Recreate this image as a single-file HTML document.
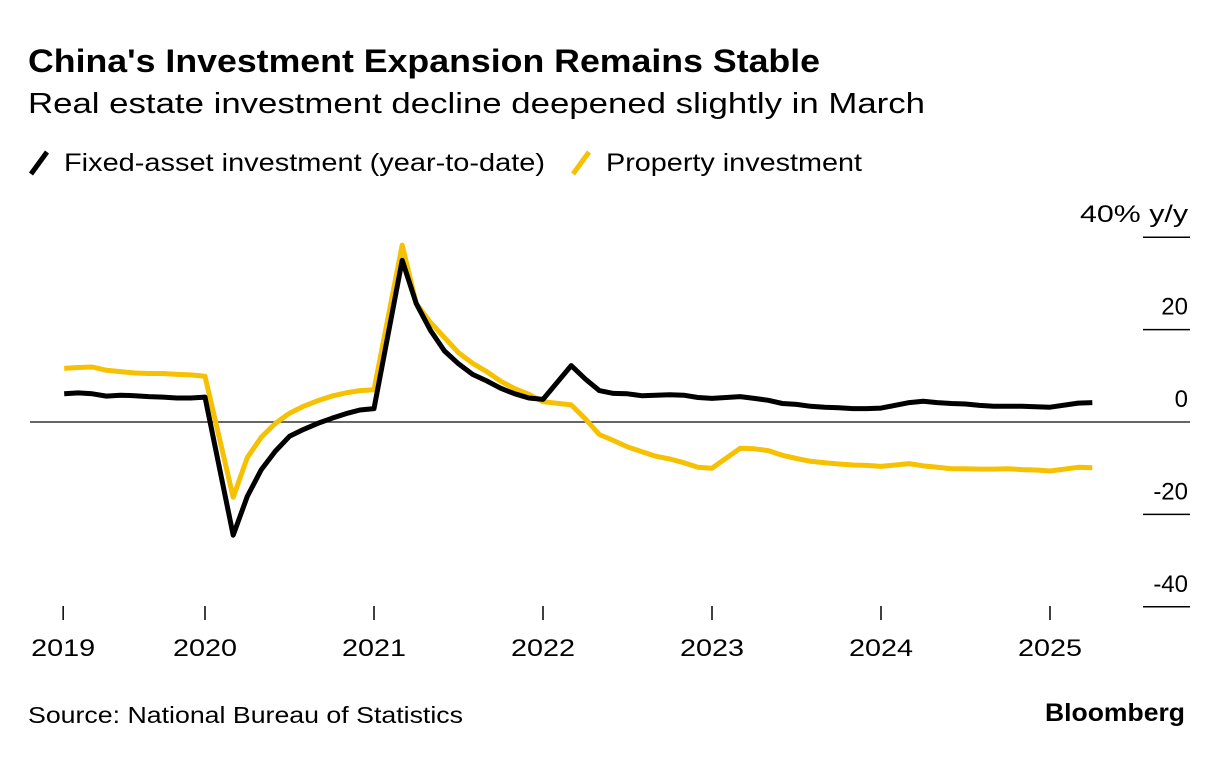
<!DOCTYPE html>
<html><head><meta charset="utf-8"><style>
body{margin:0;background:#fff;font-family:"Liberation Sans",sans-serif;}
svg text{font-family:"Liberation Sans",sans-serif;}
</style></head><body>
<svg width="1223" height="756">
<text x="28" y="72" font-size="32" font-weight="bold" fill="#000" textLength="792" lengthAdjust="spacingAndGlyphs">China's Investment Expansion Remains Stable</text>
<text x="28" y="113" font-size="29" fill="#000" textLength="897" lengthAdjust="spacingAndGlyphs">Real estate investment decline deepened slightly in March</text>
<g>
<line x1="31" y1="174" x2="47" y2="152" stroke="#000" stroke-width="5"/>
<text x="64" y="171" font-size="25" textLength="481" lengthAdjust="spacingAndGlyphs">Fixed-asset investment (year-to-date)</text>
<line x1="573" y1="174" x2="589" y2="152" stroke="#f6c100" stroke-width="5"/>
<text x="606" y="171" font-size="25" textLength="256" lengthAdjust="spacingAndGlyphs">Property investment</text>
</g>
<g id="axes"></g>
<g id="series"></g>
<text x="28" y="723" font-size="23" textLength="435" lengthAdjust="spacingAndGlyphs">Source: National Bureau of Statistics</text>
<text x="1185" y="721" font-size="25" font-weight="bold" text-anchor="end" textLength="140" lengthAdjust="spacingAndGlyphs">Bloomberg</text>
</svg>
<script>
const years=[2019,2020,2021,2022,2023,2024,2025];
const yTicks=[40,20,0,-20,-40];
const yTickLabels=["40% y/y","20","0","-20","-40"];
const months=[2,3,4,5,6,7,8,9,10,11,12];
const fai2019=[6.1,6.3,6.1,5.6,5.8,5.7,5.5,5.4,5.2,5.2,5.4];
const fai2020=[-24.5,-16.1,-10.3,-6.3,-3.1,-1.6,-0.3,0.8,1.8,2.6,2.9];
const fai2021=[35.0,25.6,19.9,15.4,12.6,10.3,8.9,7.3,6.1,5.2,4.9];
const fai2022=[12.2,9.3,6.8,6.2,6.1,5.7,5.8,5.9,5.8,5.3,5.1];
const fai2023=[5.5,5.1,4.7,4.0,3.8,3.4,3.2,3.1,2.9,2.9,3.0];
const fai2024=[4.2,4.5,4.2,4.0,3.9,3.6,3.4,3.4,3.4,3.3,3.2];
const fai2025=[4.1,4.2];
const prop2019=[11.6,11.8,11.9,11.2,10.9,10.6,10.5,10.5,10.3,10.2,9.9];
const prop2020=[-16.3,-7.7,-3.3,-0.3,1.9,3.4,4.6,5.6,6.3,6.8,7.0];
const prop2021=[38.3,25.6,21.6,18.3,15.0,12.7,10.9,8.8,7.2,6.0,4.4];
const prop2022=[3.7,0.7,-2.7,-4.0,-5.4,-6.4,-7.4,-8.0,-8.8,-9.8,-10.0];
const prop2023=[-5.7,-5.8,-6.2,-7.2,-7.9,-8.5,-8.8,-9.1,-9.3,-9.4,-9.6];
const prop2024=[-9.0,-9.5,-9.8,-10.1,-10.1,-10.2,-10.2,-10.1,-10.3,-10.4,-10.6];
const prop2025=[-9.8,-9.9];

const NS="http://www.w3.org/2000/svg";
const xs=t=>205+(t-2020)*169;
const ys=v=>422-v*4.62;
const axes=document.getElementById('axes'),series=document.getElementById('series');
function mk(tag,at,parent){const e=document.createElementNS(NS,tag);for(const k in at)e.setAttribute(k,at[k]);parent.appendChild(e);return e;}

yTicks.forEach((v,i)=>{
  const y=ys(v);
  const l=mk('line',{x1:v===0?30:1143,x2:1190,y1:y,y2:y,stroke:v===0?'#333':'#000','stroke-width':1.5},axes);
  
  
  const t=mk('text',{x:1188,y:y-15,'font-size':24,'text-anchor':'end'},axes);
  if(i===0){t.setAttribute('textLength','108');t.setAttribute('lengthAdjust','spacingAndGlyphs');}
  t.textContent=yTickLabels[i];
  
  
});
years.forEach((yr,i)=>{
  const x=i===0?xs(2019+2/12)-1:xs(yr);
  const l=mk('line',{x1:x,x2:x,y1:606,y2:620,stroke:'#000','stroke-width':1.5},axes);
  
  
  const t=mk('text',{x:x,y:656,'font-size':24,'text-anchor':'middle',textLength:64,lengthAdjust:'spacingAndGlyphs'},axes);
  t.textContent=String(yr);
  
  
});
function pts(arrs){const p=[];arrs.forEach((a,i)=>a.forEach((v,j)=>p.push([xs(years[i]+months[j]/12),ys(v)])));return p;}
function draw(arrs,color,name){
  const p=pts(arrs);
  const e=mk('polyline',{points:p.map(q=>q[0].toFixed(1)+','+q[1].toFixed(1)).join(' '),fill:'none',stroke:color,'stroke-width':5,'stroke-linejoin':'round'},series);
  
  
}
draw([prop2019,prop2020,prop2021,prop2022,prop2023,prop2024,prop2025],'#f6c100','property-investment-line');
draw([fai2019,fai2020,fai2021,fai2022,fai2023,fai2024,fai2025],'#000','fixed-asset-investment-line');
</script>
</body></html>
